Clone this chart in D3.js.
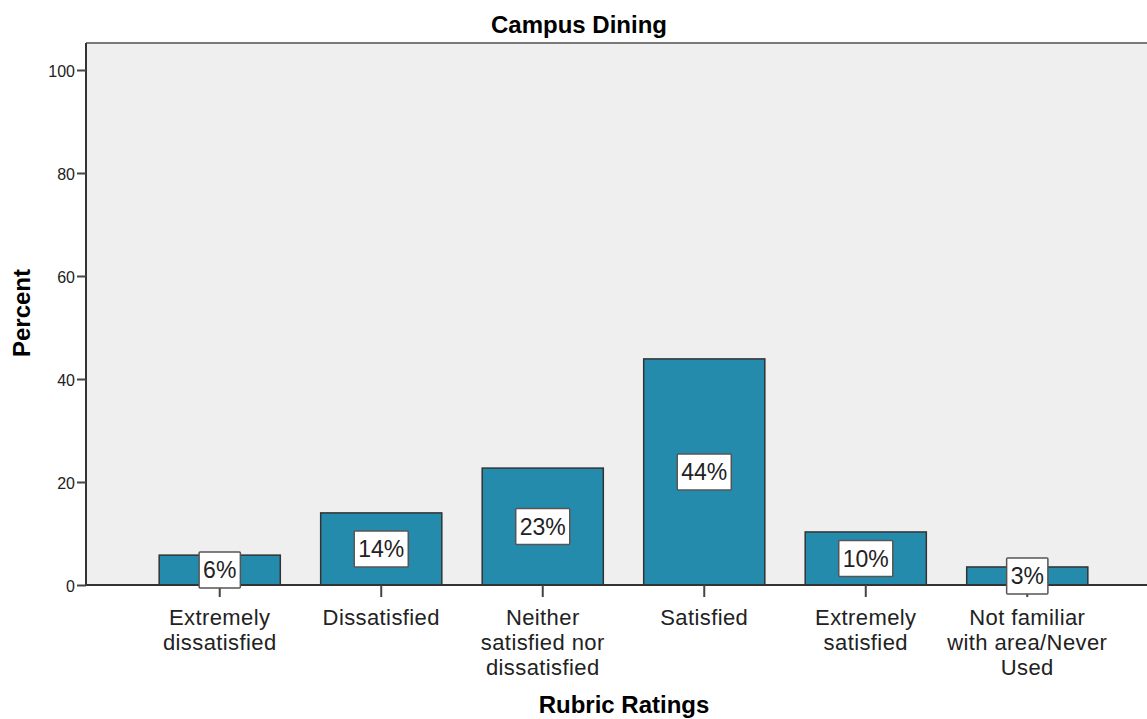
<!DOCTYPE html>
<html>
<head>
<meta charset="utf-8">
<script src="https://cdn.jsdelivr.net/npm/d3@7"></script>
<style>
  body { margin: 0; background: #fff; }
  text { font-family: Arial, "Liberation Sans", sans-serif; }
</style>
</head>
<body>
<div id="chart"></div>
<script>
const categories = [
  ['Extremely', 'dissatisfied'],
  ['Dissatisfied'],
  ['Neither', 'satisfied nor', 'dissatisfied'],
  ['Satisfied'],
  ['Extremely', 'satisfied'],
  ['Not familiar', 'with area/Never', 'Used']
]
const percents = [5.8, 14.0, 22.7, 43.9, 10.3, 3.5]
const barLabels = ['6%', '14%', '23%', '44%', '10%', '3%']
const yTicks = [0, 20, 40, 60, 80, 100]

const width = 1147
const height = 719
const margin = {top: 43, left: 86, bottom: 134}
const plotBottom = height - margin.bottom

const svg = d3.select('#chart').append('svg')
  .attr('width', width)
  .attr('height', height)

const xScale = d3.scaleBand()
  .domain(d3.range(categories.length))
  .range([margin.left, 1161])
  .paddingInner(0.25)
  .paddingOuter(0.453)

const yScale = d3.scaleLinear()
  .domain([0, 100])
  .range([plotBottom, 70])

// plot background
svg.append('rect')
  .attr('x', margin.left)
  .attr('y', margin.top)
  .attr('width', width - margin.left)
  .attr('height', plotBottom - margin.top)
  .style('fill', '#efefef')

svg.append('line')
  .attr('x1', margin.left).attr('x2', width)
  .attr('y1', margin.top).attr('y2', margin.top)
  .style('stroke', '#7a7a7a').style('stroke-width', 2)

// bars
svg.selectAll('.bar').data(percents)
  .enter().append('rect')
  .attr('class', 'bar')
  .attr('x', (d, i) => xScale(i))
  .attr('y', d => yScale(d))
  .attr('width', xScale.bandwidth())
  .attr('height', d => plotBottom - yScale(d))
  .style('fill', '#248bac')
  .style('stroke', '#333')
  .style('stroke-width', 1.5)

// y axis
const yAxis = d3.axisLeft(yScale)
  .tickValues(yTicks)
  .tickSize(9)
  .tickPadding(2)
const yg = svg.append('g')
  .attr('transform', `translate(${margin.left},0)`)
  .call(yAxis)
yg.select('.domain').attr('d', `M0,${margin.top}V${plotBottom}`)
  .style('stroke', '#333').style('stroke-width', 2)
yg.selectAll('.tick line').style('stroke', '#444').style('stroke-width', 2)
yg.selectAll('.tick text')
  .style('font-size', '16px').style('fill', '#222')
  .attr('dy', '0.4em')

// x axis
const xAxis = d3.axisBottom(xScale)
  .tickSize(12)
  .tickFormat('')
const xg = svg.append('g')
  .attr('transform', `translate(0,${plotBottom})`)
  .call(xAxis)
xg.select('.domain').attr('d', `M${margin.left},0H${width}`)
  .style('stroke', '#333').style('stroke-width', 2)
xg.selectAll('.tick line').style('stroke', '#444').style('stroke-width', 2)

xg.selectAll('.tick').each(function(d, i) {
  const t = d3.select(this).append('text')
    .attr('text-anchor', 'middle')
    .style('font-size', '22px')
    .style('letter-spacing', '0.4px')
    .style('fill', '#222')
  categories[i].forEach((line, k) => {
    t.append('tspan')
      .attr('x', 0)
      .attr('y', 40 + k * 25)
      .text(line)
  })
})

// value labels
const lab = svg.selectAll('.lab').data(percents)
  .enter().append('g')
  .attr('class', 'lab')
  .attr('transform', (d, i) => `translate(${xScale(i) + xScale.bandwidth() / 2},${(yScale(d) + plotBottom) / 2})`)
lab.append('rect')
  .style('fill', '#fff')
  .style('stroke', '#555')
  .style('stroke-width', 1.5)
lab.append('text')
  .attr('text-anchor', 'middle')
  .attr('dy', '0.36em')
  .style('font-size', '23px')
  .style('fill', '#222')
  .text((d, i) => barLabels[i])
lab.each(function() {
  const g = d3.select(this)
  const w = g.select('text').node().getComputedTextLength() + 8
  g.select('rect')
    .attr('x', -w / 2).attr('y', -18)
    .attr('width', w).attr('height', 36)
    .attr('rx', 1)
})

// titles
svg.append('text')
  .attr('x', 579).attr('y', 33)
  .attr('text-anchor', 'middle')
  .style('font-size', '24px').style('font-weight', 'bold')
  .text('Campus Dining')

svg.append('text')
  .attr('transform', `translate(30,313) rotate(-90)`)
  .attr('text-anchor', 'middle')
  .style('font-size', '24px').style('font-weight', 'bold')
  .text('Percent')

svg.append('text')
  .attr('x', 624).attr('y', 713)
  .attr('text-anchor', 'middle')
  .style('font-size', '24px').style('font-weight', 'bold')
  .text('Rubric Ratings')
</script>
</body>
</html>
